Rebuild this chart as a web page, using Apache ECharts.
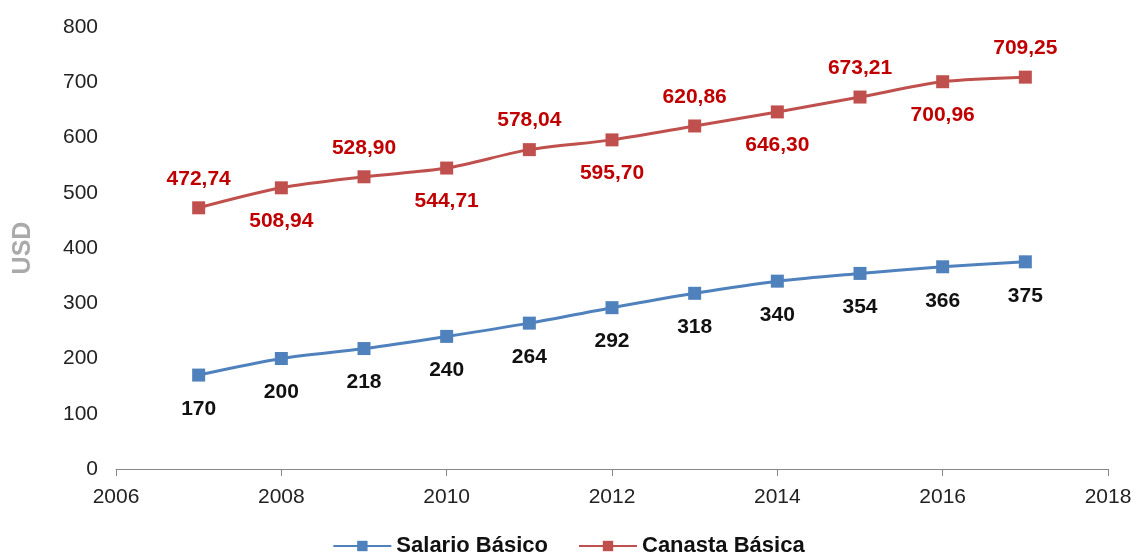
<!DOCTYPE html>
<html><head><meta charset="utf-8">
<script src="https://cdn.jsdelivr.net/npm/echarts@6/dist/echarts.min.js"></script>
<style>html,body{margin:0;padding:0;background:#fff}#c{width:1137px;height:555px}</style>
</head><body><div id="c"></div>
<script>
const years = [2007, 2008, 2009, 2010, 2011, 2012, 2013, 2014, 2015, 2016, 2017];
const salario = [170, 200, 218, 240, 264, 292, 318, 340, 354, 366, 375];
const canasta = [472.74, 508.94, 528.90, 544.71, 578.04, 595.70, 620.86, 646.30, 673.21, 700.96, 709.25];
const xTicks = [2006, 2008, 2010, 2012, 2014, 2016, 2018];
const yTicks = [0, 100, 200, 300, 400, 500, 600, 700, 800];

const chart = echarts.init(document.getElementById('c'));
const font = '"Liberation Sans", Arial, sans-serif';
chart.setOption({
  animation: false,
  grid: {left: 116, right: 29, top: 27, bottom: 86},
  xAxis: {
    type: 'value', min: xTicks[0], max: xTicks[xTicks.length-1], interval: 2,
    splitLine: {show: false},
    axisLine: {lineStyle: {color: '#888', width: 1}},
    axisTick: {show: true, length: 7, lineStyle: {color: '#888'}},
    axisLabel: {color: '#222', fontSize: 21, fontFamily: font, margin: 18, formatter: v => String(v)}
  },
  yAxis: {
    type: 'value', min: yTicks[0], max: yTicks[yTicks.length-1], interval: 100,
    name: 'USD', nameLocation: 'middle', nameGap: 80, nameRotate: 90,
    nameTextStyle: {color: '#aaa', fontSize: 25, fontWeight: 'bold', fontFamily: font},
    splitLine: {show: false},
    axisLine: {show: false}, axisTick: {show: false},
    axisLabel: {color: '#222', fontSize: 21, fontFamily: font, margin: 18}
  },
  legend: {
    top: 530, left: 'center', itemWidth: 58, itemHeight: 13, itemGap: 30,
    textStyle: {color: '#111', fontSize: 22, fontWeight: 'bold', fontFamily: font},
    data: ['Salario Básico', 'Canasta Básica']
  },
  series: [
    {
      name: 'Salario Básico', type: 'line', smooth: 0.3,
      symbol: 'rect', symbolSize: 13,
      itemStyle: {color: '#4F81BD'}, lineStyle: {color: '#4F81BD', width: 3},
      label: {show: true, position: 'bottom', distance: 17, color: '#111', fontSize: 21, fontWeight: 'bold', fontFamily: font},
      data: years.map((y, i) => [y, salario[i]])
    },
    {
      name: 'Canasta Básica', type: 'line', smooth: 0.3,
      symbol: 'rect', symbolSize: 13,
      itemStyle: {color: '#C0504D'}, lineStyle: {color: '#C0504D', width: 3},
      label: {show: true, color: '#C00000', fontSize: 21, fontWeight: 'bold', fontFamily: font,
        formatter: p => p.value[1].toFixed(2).replace('.', ',')},
      data: years.map((y, i) => ({
        value: [y, canasta[i]],
        label: i % 2 === 0 ? {position: 'top', distance: 12} : {position: 'bottom', distance: 16}
      }))
    }
  ]
});
</script></body></html>
